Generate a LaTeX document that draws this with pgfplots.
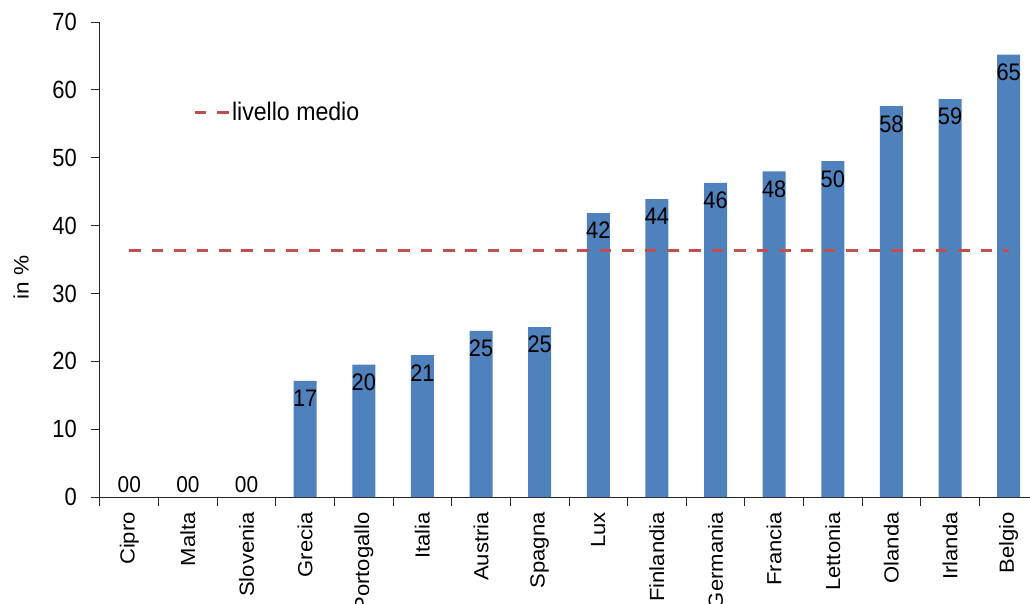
\documentclass[border=0pt]{standalone}
\usepackage{fontspec}
\setmainfont{Liberation Sans}
\newfontfamily\tickfont{Liberation Sans}[FakeStretch=0.88]
\newfontfamily\legfont{Liberation Sans}[FakeStretch=0.91]
\newfontfamily\rotfont{Liberation Sans}[FakeStretch=1.08]
\usepackage{pgfplots}
\pgfplotsset{compat=1.18}
\definecolor{barblue}{RGB}{79,129,189}
\definecolor{avgred}{RGB}{192,80,77}

\begin{document}
\begin{tikzpicture}
\begin{axis}[
  name=ax,
  scale only axis,
  width=938bp, height=475bp,
  xmin=-0.5, xmax=15.5,
  ymin=0, ymax=70,
  axis x line*=bottom, axis y line*=left,
  axis line style={draw=black!85, line width=1bp, -},
  xtick={0,...,15},
  xticklabels={Cipro,Malta,Slovenia,Grecia,Portogallo,Italia,Austria,Spagna,Lux,Finlandia,Germania,Francia,Lettonia,Olanda,Irlanda,Belgio},
  minor xtick={-0.5,0.5,...,15.5},
  ytick={0,10,...,70},
  tick align=outside,
  major tick length=9bp, minor tick length=9bp,
  tick style={draw=black!85, line width=1bp},
  major x tick style={draw=none},
  /pgf/number format/assume math mode=true,
  yticklabel shift=14bp,
  xticklabel shift=6bp,
  yticklabel style={anchor=east, inner sep=0pt, font=\tickfont\fontsize{25}{25}\selectfont},
  xticklabel style={rotate=90, anchor=east, inner sep=0pt, font=\rotfont\fontsize{20.5}{21}\selectfont},
  ylabel={in \%},
  ylabel style={at={(axis description cs:-0.084,0.463)}, anchor=center, font=\rotfont\fontsize{21}{21}\selectfont},
  legend style={draw=none, fill=none, at={(axis description cs:0.099,0.81)}, anchor=west, inner sep=0pt,
    font=\legfont\fontsize{25.5}{25.5}\selectfont},
  legend cell align=left,
  legend image code/.code={\draw[#1] (0bp,0bp) -- (34bp,0bp);},
]
\addplot[ybar, bar width=23bp, fill=barblue, draw=none, forget plot,
  nodes near coords, point meta=explicit symbolic,
  every node near coord/.append style={anchor=north, inner sep=0pt, yshift=-9bp, text=black,
    font=\legfont\fontsize{24}{24}\selectfont}]
  coordinates {
  (3,17.1)[17] (4,19.5)[20] (5,20.9)[21] (6,24.5)[25] (7,25.05)[25]
  (8,41.85)[42] (9,43.9)[44] (10,46.3)[46] (11,48.0)[48] (12,49.5)[50]
  (13,57.6)[58] (14,58.65)[59] (15,65.2)[65]
  };
\addplot[ybar, bar width=23bp, draw=none, fill=none, forget plot,
  nodes near coords, point meta=explicit symbolic,
  every node near coord/.append style={anchor=south, inner sep=0pt, yshift=4bp, text=black,
    font=\legfont\fontsize{23}{23}\selectfont}]
  coordinates {(0,0)[00] (1,0)[00] (2,0)[00]};
\addplot[avgred, line width=3bp, dash pattern=on 11.6bp off 10.8bp]
  coordinates {(0,36.35) (15,36.35)};
\addlegendentry{livello medio}
\end{axis}
\pgfresetboundingbox
\path[use as bounding box] ([shift={(-100bp,-107bp)}]ax.south west) rectangle ++(1030bp,604bp);
\end{tikzpicture}
\end{document}
